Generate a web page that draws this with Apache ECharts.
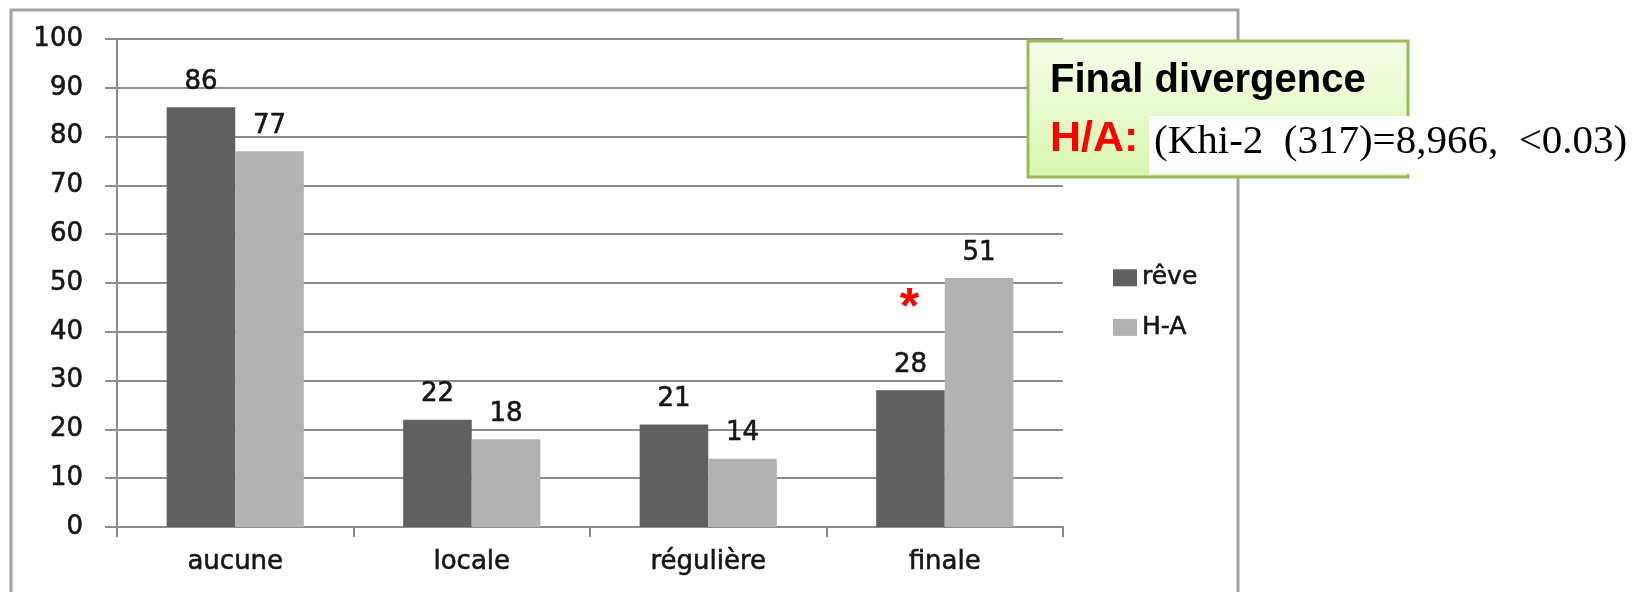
<!DOCTYPE html>
<html>
<head>
<meta charset="utf-8">
<script src="https://cdn.jsdelivr.net/npm/echarts@6/dist/echarts.min.js"></script>
<style>
html,body{margin:0;padding:0;background:#fff;}
#chart{width:1645px;height:592px;}
</style>
</head>
<body>
<div id="chart"></div>
<script>
const categories = ['aucune', 'locale', 'régulière', 'finale'];
const reve = [86, 22, 21, 28];
const ha = [77, 18, 14, 51];
const seriesNames = ['rêve', 'H-A'];
const yTicks = [0, 10, 20, 30, 40, 50, 60, 70, 80, 90, 100];
const starPoint = ['finale', 47];
const boxTitle = 'Final divergence';
const boxLabel = 'H/A:';
const boxStat = '(Khi-2  (317)=8,966,  <0.03)';

const chart = echarts.init(document.getElementById('chart'), null, {renderer: 'canvas'});
const axisColor = '#8c8c8c';
const txt = '#161616';
const font = 'DejaVu Sans, Verdana, sans-serif';
const heavy = {textBorderColor: txt, textBorderWidth: 0.6};

chart.setOption({
  backgroundColor: '#fff',
  animation: false,
  grid: {left: 117, right: 582, top: 39, bottom: 65},
  legend: {
    orient: 'vertical',
    left: 1113, top: 265, padding: 0,
    itemWidth: 24, itemHeight: 17, itemGap: 24,
    icon: 'rect',
    data: seriesNames,
    textStyle: Object.assign({fontFamily: font, fontSize: 25, color: txt}, heavy)
  },
  xAxis: {
    type: 'category',
    data: categories,
    boundaryGap: true,
    axisLine: {lineStyle: {color: axisColor, width: 2}},
    axisTick: {show: true, length: 10, lineStyle: {color: axisColor, width: 2}},
    axisLabel: Object.assign({fontFamily: font, fontSize: 26, color: txt, margin: 22}, heavy)
  },
  yAxis: {
    type: 'value',
    min: yTicks[0], max: yTicks[yTicks.length - 1], interval: 10,
    axisLine: {show: true, lineStyle: {color: axisColor, width: 2}},
    axisTick: {show: true, length: 12, lineStyle: {color: axisColor, width: 2}},
    splitLine: {lineStyle: {color: axisColor, width: 2}},
    axisLabel: Object.assign({fontFamily: font, fontSize: 26, color: txt, margin: 34}, heavy)
  },
  series: [
    {
      name: seriesNames[0], type: 'bar', data: reve,
      barGap: '0%', barCategoryGap: '42%',
      itemStyle: {color: '#606060'},
      label: Object.assign({show: true, position: 'top', distance: 12, fontFamily: font, fontSize: 26, color: txt}, heavy),
      markPoint: {
        symbol: 'rect', symbolSize: 1,
        itemStyle: {color: 'rgba(0,0,0,0)'},
        data: [{coord: starPoint, value: '*'}],
        label: {show: true, position: 'inside', formatter: '*', color: '#ff0000',
          fontFamily: 'Liberation Sans, Arial, sans-serif', fontWeight: 'bold', fontSize: 50, offset: [-1, 12]}
      }
    },
    {
      name: seriesNames[1], type: 'bar', data: ha,
      itemStyle: {color: '#b2b2b2'},
      label: Object.assign({show: true, position: 'top', distance: 12, fontFamily: font, fontSize: 26, color: txt}, heavy)
    }
  ],
  graphic: [
    {type: 'rect', z: 1, silent: true,
      shape: {x: 11, y: 10, width: 1227, height: 700},
      style: {fill: 'none', stroke: '#a3a3a3', lineWidth: 3}},
    {type: 'rect', z: 100, silent: true,
      shape: {x: 1028, y: 41, width: 380, height: 136},
      style: {
        fill: new echarts.graphic.LinearGradient(0, 0, 0, 1, [
          {offset: 0, color: '#f6fdea'}, {offset: 1, color: '#d8f6ae'}]),
        stroke: '#9bbb59', lineWidth: 3}},
    {type: 'rect', z: 101, silent: true,
      shape: {x: 1149, y: 116, width: 496, height: 58},
      style: {fill: '#ffffff'}},
    {type: 'text', z: 102, silent: true, x: 1050, y: 81,
      style: {text: boxTitle, fill: '#000', font: 'bold 40px "Liberation Sans", Arial, sans-serif', verticalAlign: 'middle'}},
    {type: 'text', z: 102, silent: true, x: 1050, y: 139,
      style: {text: boxLabel, fill: '#ff0000', font: 'bold 43px "Liberation Sans", Arial, sans-serif', verticalAlign: 'middle'}},
    {type: 'text', z: 102, silent: true, x: 1154, y: 142,
      style: {text: boxStat, fill: '#000', font: '41px "Liberation Serif", "Times New Roman", serif', verticalAlign: 'middle'}}
  ]
});
</script>
</body>
</html>
